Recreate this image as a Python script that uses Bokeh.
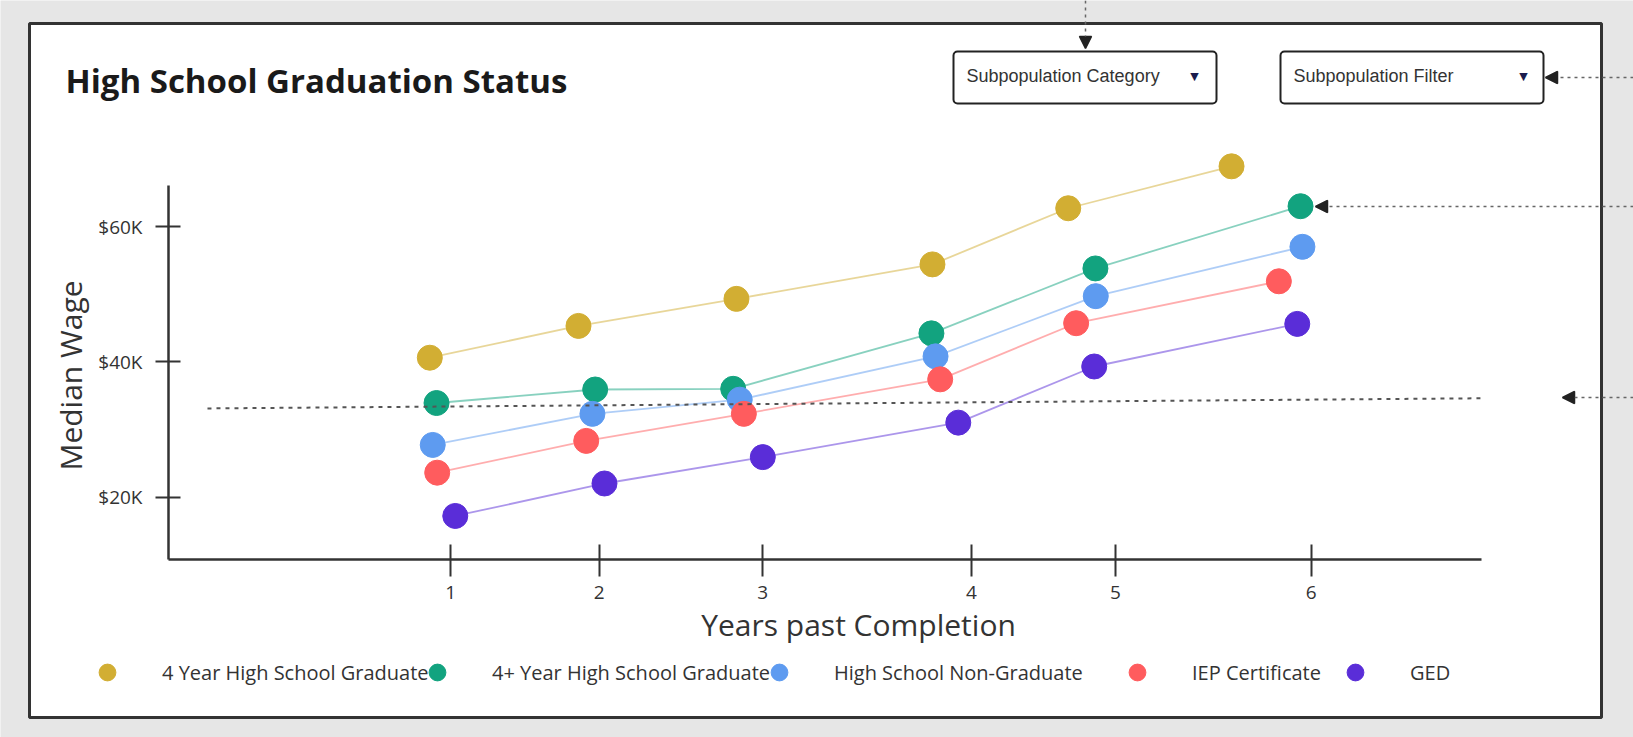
import math
from bokeh.plotting import figure
from bokeh.models import (FixedTicker, Legend, LegendItem, Label, BoxAnnotation,
                          Arrow, NormalHead, Range1d)
from bokeh.embed import file_html
from bokeh.resources import INLINE

# ---------------- data ----------------
title_text = "High School Graduation Status"
x_axis_title = "Years past Completion"
y_axis_title = "Median Wage"
dropdown_labels = ["Subpopulation Category", "Subpopulation Filter"]

series_names = ["4 Year High School Graduate", "4+ Year High School Graduate",
                "High School Non-Graduate", "IEP Certificate", "GED"]
series_colors = ["#D2AE33", "#12A37F", "#5E9BF0", "#FF5C5E", "#5A2DD8"]

# years past completion (as placed in the mock-up) and median wage in $
years_4yr = [0.878, 1.742, 2.660, 3.799, 4.588, 5.537]
wage_4yr = [40600, 45300, 49300, 54400, 62700, 68900]

years_4plus = [0.917, 1.839, 2.641, 3.793, 4.746, 5.938]
wage_4plus = [33900, 35900, 36000, 44200, 53800, 63000]

years_nongrad = [0.895, 1.823, 2.679, 3.817, 4.748, 5.949]
wage_nongrad = [27700, 32300, 34400, 40800, 49700, 57000]

years_iep = [0.921, 1.787, 2.703, 3.844, 4.634, 5.812]
wage_iep = [23600, 28300, 32300, 37400, 45700, 51900]

years_ged = [1.026, 1.893, 2.813, 3.949, 4.739, 5.919]
wage_ged = [17200, 22000, 25900, 31000, 39300, 45600]

reference_years = [-0.414, 6.99]
reference_wage = [33100, 34600]

x_tick_positions = [1.0, 1.862, 2.813, 4.026, 4.863, 6.0]
x_tick_labels = ["1", "2", "3", "4", "5", "6"]
y_tick_values = [20000, 40000, 60000]
y_tick_labels = ["$20K", "$40K", "$60K"]

series_x = [years_4yr, years_4plus, years_nongrad, years_iep, years_ged]
series_y = [wage_4yr, wage_4plus, wage_nongrad, wage_iep, wage_ged]

# ---------------- layout ----------------
W, H = 1633, 737
# axis extents (data units)
X_AXIS_LO, X_AXIS_HI = -0.6405, 6.9896
Y_AXIS_LO, Y_AXIS_HI = 10710, 66060

# the frame spans the whole canvas; axes are drawn at fixed locations in it
p = figure(width=W, height=H, output_backend="svg", toolbar_location=None,
           x_range=Range1d(-1.6168, 7.8729), y_range=Range1d(-15560, 93420),
           min_border_left=0, min_border_right=0,
           min_border_top=0, min_border_bottom=0,
           border_fill_color="#e6e6e6", background_fill_color="#e6e6e6",
           outline_line_color=None)
p.grid.visible = False
p.title.visible = False


def units_ok(cls, prop):
    try:
        cls(**{prop: "canvas"})
        return "canvas"
    except Exception:
        return "screen"


LBL_U = units_ok(Label, "x_units")
BOX_U = units_ok(BoxAnnotation, "left_units")
ARR_U = units_ok(Arrow, "start_units")
FL, FB = 0, H


def cx(x, u):
    return x if u == "canvas" else x - FL


def cy(y, u):
    return y if u == "canvas" else FB - y


def box(l, r, t, b, **kw):
    return BoxAnnotation(left=cx(l, BOX_U), right=cx(r, BOX_U),
                         top=cy(t, BOX_U), bottom=cy(b, BOX_U),
                         left_units=BOX_U, right_units=BOX_U,
                         top_units=BOX_U, bottom_units=BOX_U,
                         fill_alpha=1.0, line_alpha=1.0, **kw)


def label(x, y, text, **kw):
    return Label(x=cx(x, LBL_U), y=cy(y, LBL_U), x_units=LBL_U, y_units=LBL_U,
                 text=text, **kw)


# white card with dark border
p.add_layout(box(29, 1601, 23, 717, fill_color="white",
                 line_color="#333333", line_width=3, level="underlay"))

# axes
xa = p.xaxis[0]
ya = p.yaxis[0]
xa.fixed_location = Y_AXIS_LO
ya.fixed_location = X_AXIS_LO
xa.bounds = (X_AXIS_LO, X_AXIS_HI)
ya.bounds = (Y_AXIS_LO, Y_AXIS_HI)
xa.ticker = FixedTicker(ticks=x_tick_positions)
xa.major_label_overrides = {t: l for t, l in zip(x_tick_positions, x_tick_labels)}
ya.ticker = FixedTicker(ticks=y_tick_values)
ya.major_label_overrides = {t: l for t, l in zip(y_tick_values, y_tick_labels)}
for ax in (xa, ya):
    ax.axis_line_color = "#333333"
    ax.axis_line_width = 2.5
    ax.major_tick_line_color = "#333333"
    ax.major_tick_line_width = 2
    ax.minor_tick_line_color = None
    ax.major_label_text_font = "Open Sans"
    ax.major_label_text_font_size = "19px"
    ax.major_label_text_color = "#333333"
xa.major_tick_in = 15
xa.major_tick_out = 17
xa.major_label_standoff = 9
ya.major_tick_in = 12
ya.major_tick_out = 13
ya.major_label_standoff = 13

# series
scatter_renderers = []
for xs, ys, color in zip(series_x, series_y, series_colors):
    p.line(xs, ys, line_color=color, line_width=1.8, line_alpha=0.5)
    r = p.scatter(xs, ys, size=25, fill_color=color, line_color=color, line_width=1)
    scatter_renderers.append(r)

# reference dashed line
p.line(reference_years, reference_wage, line_color="#555555", line_width=2,
       line_dash="4 5")

# legends (one per item, placed as in the mock-up)
legend_marker_x = [107, 437, 779, 1137, 1355]
legend_y = 672
for r, name, mx in zip(scatter_renderers, series_names, legend_marker_x):
    lg = Legend(items=[LegendItem(label=name, renderers=[r])],
                location=(mx - 21 - FL, FB - (legend_y + 21)),
                orientation="horizontal", glyph_width=42, glyph_height=42,
                label_standoff=34, padding=0, margin=0, spacing=0,
                border_line_color=None, background_fill_alpha=0,
                label_text_font="Open Sans", label_text_font_size="20px",
                label_text_color="#333333")
    p.add_layout(lg)

# title & axis titles (y = visual centre of the text)
p.add_layout(label(65, 80, title_text, text_font="Open Sans", text_font_style="bold",
                   text_font_size="33px", text_color="#1a1a1a",
                   text_baseline="middle", text_align="left"))
p.add_layout(label(858, 624, x_axis_title, text_font="Open Sans",
                   text_font_size="30px", text_color="#333333",
                   text_baseline="middle", text_align="center"))
p.add_layout(label(70, 375, y_axis_title, text_font="Open Sans", angle=math.pi / 2,
                   text_font_size="30px", text_color="#333333",
                   text_baseline="middle", text_align="center"))

# dropdown boxes
dd_boxes = [(953, 1216), (1280, 1543)]
dd_text_x = [966, 1293]
dd_tri_x = [1194, 1523]
for (l, r_), txt, tx, trx in zip(dd_boxes, dropdown_labels, dd_text_x, dd_tri_x):
    p.add_layout(box(l, r_, 51, 103, fill_color="white", line_color="#222222",
                     line_width=2, border_radius=4, level="overlay"))
    p.add_layout(label(tx, 75, txt, text_font="Liberation Sans", text_font_size="18px",
                       text_color="#333333", text_baseline="middle",
                       text_align="left", level="overlay"))
    p.add_layout(label(trx, 76, "\u25BC", text_font="DejaVu Sans", text_font_size="11px",
                       text_color="#1b1b4d", text_baseline="middle",
                       text_align="center", level="overlay"))

# annotation arrows of the mock-up
arrows = [((1085, 0), (1085, 48)),
          ((1633, 77), (1545, 77)),
          ((1633, 206), (1315, 206)),
          ((1633, 397), (1562, 397))]
for (x0, y0), (x1, y1) in arrows:
    p.add_layout(Arrow(x_start=cx(x0, ARR_U), y_start=cy(y0, ARR_U),
                       x_end=cx(x1, ARR_U), y_end=cy(y1, ARR_U),
                       start_units=ARR_U, end_units=ARR_U,
                       line_color="#666666", line_width=1.5, line_dash="3 4",
                       end=NormalHead(size=12, fill_color="#222222", fill_alpha=1.0,
                                      line_color="#222222", line_alpha=1.0,
                                      line_width=1.5),
                       level="overlay"))

open("out.html", "w").write(file_html(p, INLINE))
